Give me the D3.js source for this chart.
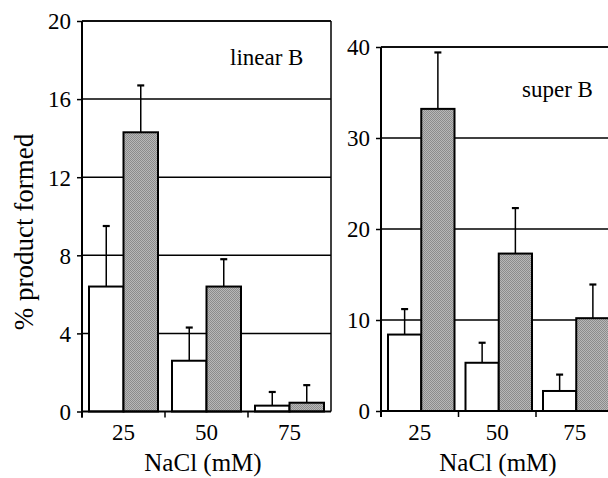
<!DOCTYPE html>
<html>
<head>
<meta charset="utf-8">
<script src="https://cdn.jsdelivr.net/npm/d3@7"></script>
</head>
<body style="margin:0; background:#fff">
<div id="chart"></div>
<script>
// NaCl concentrations (mM)
const categories = ['25', '50', '75'];

// linear B panel (% product formed), bar value + upward error
const linearWhite = [6.4, 2.6, 0.3];
const linearWhiteErr = [3.1, 1.7, 0.7];
const linearGrey = [14.3, 6.4, 0.45];
const linearGreyErr = [2.4, 1.4, 0.9];
const linearTicks = [0, 4, 8, 12, 16, 20];

// super B panel
const superWhite = [8.4, 5.3, 2.2];
const superWhiteErr = [2.8, 2.2, 1.8];
const superGrey = [33.2, 17.3, 10.2];
const superGreyErr = [6.2, 5.0, 3.7];
const superTicks = [0, 10, 20, 30, 40];

const serif = '"Liberation Serif"';

const svg = d3.select('#chart').
  append('svg').
  attr('width', 608).
  attr('height', 478).
  style('display', 'block');

// dithered grey fill like the printed bars
const pat = svg.append('defs').append('pattern').
  attr('id', 'dither').
  attr('width', 2).
  attr('height', 2).
  attr('patternUnits', 'userSpaceOnUse');
pat.append('rect').attr('width', 2).attr('height', 2).attr('fill', '#b8b8b8');
pat.append('rect').attr('x', 0).attr('y', 0).attr('width', 1).attr('height', 1).attr('fill', '#8c8c8c');
pat.append('rect').attr('x', 1).attr('y', 1).attr('width', 1).attr('height', 1).attr('fill', '#8c8c8c');

function drawPanel(p) {
  const x = d3.scaleBand().domain(categories).range([p.left, p.right]);
  const y = d3.scaleLinear().domain([0, p.max]).range([p.bottom, p.top]);
  const x1 = d3.scaleBand().domain(['w', 'g']).range([p.inner[0], x.bandwidth() - p.inner[1]]);

  const g = svg.append('g');

  // grid lines (behind bars)
  g.selectAll('.grid').
    data(p.ticks.filter(function(d) { return d > 0; })).
    enter().append('line').
      attr('x1', p.left).
      attr('x2', p.right).
      attr('y1', function(d) { return y(d); }).
      attr('y2', function(d) { return y(d); }).
      attr('stroke', '#000').
      attr('stroke-width', 1.5);

  if (p.frameRight) {
    g.append('line').
      attr('x1', p.right).attr('x2', p.right).
      attr('y1', p.top).attr('y2', p.bottom).
      attr('stroke', '#000').attr('stroke-width', 1.5);
  }

  const rows = categories.map(function(c, i) {
    return [
      { cat: c, key: 'w', v: p.white[i], e: p.whiteErr[i] },
      { cat: c, key: 'g', v: p.grey[i], e: p.greyErr[i] }
    ];
  }).flat();

  // error bars (upward only)
  const eb = g.selectAll('.err').data(rows).enter().append('g');
  eb.append('line').
    attr('x1', function(d) { return x(d.cat) + x1(d.key) + x1.bandwidth() / 2; }).
    attr('x2', function(d) { return x(d.cat) + x1(d.key) + x1.bandwidth() / 2; }).
    attr('y1', function(d) { return y(d.v); }).
    attr('y2', function(d) { return y(d.v + d.e); }).
    attr('stroke', '#000').attr('stroke-width', 1.5);
  eb.append('line').
    attr('x1', function(d) { return x(d.cat) + x1(d.key) + x1.bandwidth() / 2 - 3.5; }).
    attr('x2', function(d) { return x(d.cat) + x1(d.key) + x1.bandwidth() / 2 + 3.5; }).
    attr('y1', function(d) { return y(d.v + d.e); }).
    attr('y2', function(d) { return y(d.v + d.e); }).
    attr('stroke', '#000').attr('stroke-width', 2.2);

  g.selectAll('.bar').
    data(rows).
    enter().append('rect').
      attr('x', function(d) { return x(d.cat) + x1(d.key); }).
      attr('y', function(d) { return y(d.v); }).
      attr('width', x1.bandwidth()).
      attr('height', function(d) { return p.bottom - y(d.v); }).
      attr('fill', function(d) { return d.key === 'w' ? '#fff' : 'url(#dither)'; }).
      attr('stroke', '#000').
      attr('stroke-width', 2);

  // y axis
  const yAxis = d3.axisLeft(y).tickValues(p.ticks).tickSize(5).tickPadding(6).tickFormat(d3.format('d'));
  const ya = g.append('g').attr('transform', 'translate(' + p.left + ',0)').call(yAxis);
  ya.select('.domain').attr('stroke-width', 2).attr('d', 'M0,' + p.top + 'V' + (p.bottom + 6));
  ya.selectAll('.tick line').attr('stroke-width', 1.5);
  ya.selectAll('text').
    attr('dy', '0.34em').
    style('font-family', serif).
    style('font-size', '23px');

  // x axis: ticks at band boundaries, labels centred
  g.append('line').
    attr('x1', p.left).attr('x2', p.right).
    attr('y1', p.bottom).attr('y2', p.bottom).
    attr('stroke', '#000').attr('stroke-width', 2);
  g.selectAll('.xt').
    data(categories).
    enter().append('line').
      attr('x1', function(d) { return x(d); }).
      attr('x2', function(d) { return x(d); }).
      attr('y1', p.bottom).
      attr('y2', p.bottom + 6).
      attr('stroke', '#000').attr('stroke-width', 1.5);
  g.selectAll('.xl').
    data(categories).
    enter().append('text').
      attr('x', function(d) { return x(d) + x.bandwidth() / 2; }).
      attr('y', 440).
      attr('text-anchor', 'middle').
      style('font-family', serif).
      style('font-size', '23px').
      text(function(d) { return d; });

  g.append('text').
    attr('x', p.titleX).
    attr('y', 471).
    attr('text-anchor', 'middle').
    style('font-family', serif).
    style('font-size', '25px').
    text('NaCl (mM)');

  // top frame
  g.append('line').
    attr('x1', p.left).attr('x2', p.right).
    attr('y1', p.top).attr('y2', p.top).
    attr('stroke', '#000').attr('stroke-width', 1.5);

  g.append('text').
    attr('x', p.labelX).
    attr('y', p.labelY).
    style('font-family', serif).
    style('font-size', '23px').
    text(p.label);
}

drawPanel({
  left: 82, right: 331, top: 21, bottom: 411.5, max: 20,
  ticks: linearTicks, inner: [7, 7],
  white: linearWhite, whiteErr: linearWhiteErr, grey: linearGrey, greyErr: linearGreyErr,
  frameRight: true, titleX: 203, label: 'linear B', labelX: 230, labelY: 65
});

drawPanel({
  left: 381, right: 613.5, top: 47, bottom: 411, max: 40,
  ticks: superTicks, inner: [7, 4],
  white: superWhite, whiteErr: superWhiteErr, grey: superGrey, greyErr: superGreyErr,
  frameRight: false, titleX: 498, label: 'super B', labelX: 522, labelY: 97
});

svg.append('text').
  attr('transform', 'translate(33,232) rotate(-90)').
  attr('text-anchor', 'middle').
  style('font-family', serif).
  style('font-size', '27px').
  text('% product formed');
</script>
</body>
</html>
